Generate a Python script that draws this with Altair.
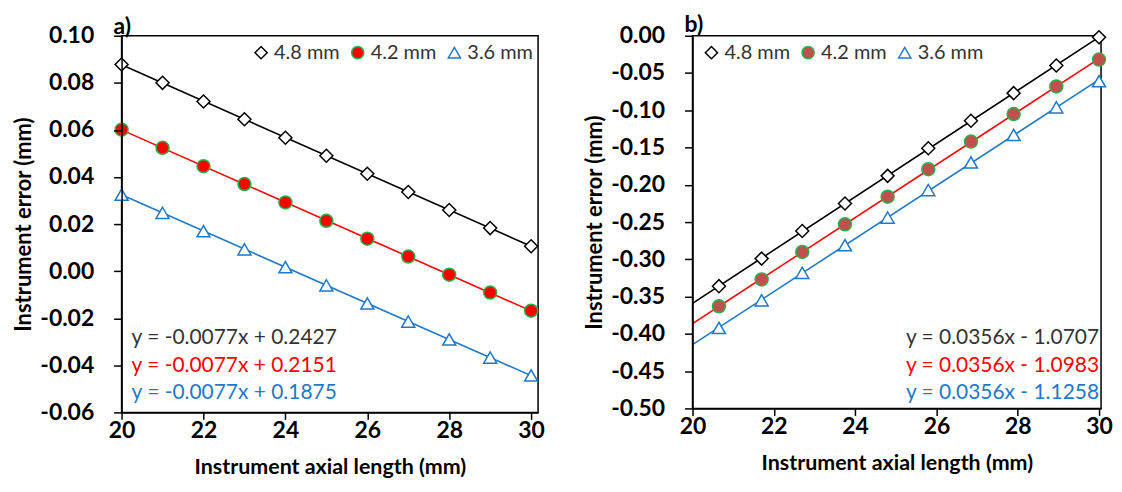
import altair as alt
import pandas as pd

series = ["4.8 mm", "4.2 mm", "3.6 mm"]

# Panel a)
a_x = [20, 21, 22, 23, 24, 25, 26, 27, 28, 29, 30]
a_48 = [0.0878, 0.0800, 0.0721, 0.0645, 0.0567, 0.0490, 0.0414, 0.0336, 0.0260, 0.0183, 0.0106]
a_42 = [0.0601, 0.0524, 0.0446, 0.0370, 0.0292, 0.0214, 0.0138, 0.0062, -0.0015, -0.0091, -0.0168]
a_36 = [0.0325, 0.0248, 0.0170, 0.0093, 0.0017, -0.0060, -0.0137, -0.0214, -0.0290, -0.0367, -0.0443]
a_eq = ["y = -0.0077x + 0.2427", "y = -0.0077x + 0.2151", "y = -0.0077x + 0.1875"]
a_yticks = [-0.06, -0.04, -0.02, 0.00, 0.02, 0.04, 0.06, 0.08, 0.10]

# Panel b)
b_x = [20.65, 21.7, 22.7, 23.75, 24.8, 25.8, 26.85, 27.9, 28.95, 30.0]
b_48 = [-0.336, -0.299, -0.262, -0.225, -0.188, -0.151, -0.114, -0.077, -0.040, -0.002]
b_42 = [-0.363, -0.327, -0.290, -0.253, -0.216, -0.179, -0.142, -0.105, -0.068, -0.032]
b_36 = [-0.392, -0.355, -0.318, -0.281, -0.244, -0.207, -0.170, -0.133, -0.096, -0.061]
b_eq = ["y = 0.0356x - 1.0707", "y = 0.0356x - 1.0983", "y = 0.0356x - 1.1258"]
b_yticks = [-0.50, -0.45, -0.40, -0.35, -0.30, -0.25, -0.20, -0.15, -0.10, -0.05, 0.00]

x_ticks = [20, 22, 24, 26, 28, 30]

FONT = "Lato"
BLUE = "#1F78C8"
LINE_COLORS = ["#000000", "#FF0000", BLUE]
EQ_COLORS = ["#333333", "#FF0000", BLUE]


def long_df(xs, ys_list):
    rows = []
    for s, ys in zip(series, ys_list):
        for xv, yv in zip(xs, ys):
            rows.append({"x": xv, "y": yv, "series": s})
    return pd.DataFrame(rows)


def panel(df, eqs, xdom, ydom, yticks, fill_mid, legend_x, eq_x, eq_align,
          title, width, height, title_offset):
    xenc = alt.X("x:Q", scale=alt.Scale(domain=xdom, nice=False, zero=False),
                 axis=alt.Axis(values=x_ticks, format="d", ticks=True, tickSize=7,
                               tickColor="#000000", tickOpacity=1, tickWidth=1.5,
                               labelFlush=False, domain=True, zindex=2,
                               title="Instrument axial length (mm)"))
    yenc = alt.Y("y:Q", scale=alt.Scale(domain=ydom, nice=False, zero=False),
                 axis=alt.Axis(values=yticks, ticks=True, tickSize=8,
                               tickColor="#000000", tickOpacity=1, tickWidth=1.5,
                               labelFlush=False, domain=True, zindex=2,
                               labelExpr="replace(format(datum.value, '.2f'), '\u2212', '-')",
                               title="Instrument error (mm)"))
    leg = alt.Legend(title=None, orient="none", legendX=legend_x, legendY=7,
                     direction="horizontal", labelFont=FONT, labelFontSize=20,
                     labelColor="#333333", symbolSize=150, symbolStrokeWidth=1.5,
                     columnPadding=8, labelOffset=3, padding=0)
    lines = alt.Chart(df).transform_regression(
        "x", "y", groupby=["series"], extent=[20, 30]
    ).transform_calculate(
        trend="datum.series + ' fit'"
    ).mark_line(strokeWidth=1.6).encode(
        x=xenc, y=yenc,
        color=alt.Color("trend:N",
                        scale=alt.Scale(domain=[s + " fit" for s in series], range=LINE_COLORS),
                        legend=None),
    )
    pts = alt.Chart(df).mark_point(size=170, filled=False, strokeWidth=1.5, opacity=1).encode(
        x=xenc, y=yenc,
        shape=alt.Shape("series:N", scale=alt.Scale(domain=series,
                        range=["diamond", "circle", "triangle-up"]), legend=leg),
        fill=alt.Fill("series:N", scale=alt.Scale(domain=series,
                      range=["#FFFFFF", fill_mid, "#FFFFFF"]), legend=leg),
        stroke=alt.Stroke("series:N", scale=alt.Scale(domain=series,
                          range=["#000000", "#2DB04B", BLUE]), legend=leg),
    )
    layers = [lines, pts]
    for i, (eq, col) in enumerate(zip(eqs, EQ_COLORS)):
        layers.append(
            alt.Chart(pd.DataFrame({"t": [eq]})).mark_text(
                font=FONT, fontSize=21, color=col, align=eq_align, baseline="middle"
            ).encode(text="t:N", x=alt.value(eq_x), y=alt.value(303 + 28 * i))
        )
    return alt.layer(*layers).properties(
        width=width, height=height,
        title=alt.TitleParams(title, anchor="start", frame="group", dx=-8,
                              font=FONT, fontSize=23, fontWeight="bold",
                              color="#000000", offset=title_offset),
    )


dfa = long_df(a_x, [a_48, a_42, a_36])
dfb = long_df(b_x, [b_48, b_42, b_36])

left = panel(dfa, a_eq, [20, 30.17], [-0.06, 0.10], a_yticks, "#FF0000",
             130, 10, "left", "a)", 418, 378, -14)
right = panel(dfb, b_eq, [20, 30.05], [-0.50, 0.00], b_yticks, "#C0504D",
              9, 408, "right", "b)", 410, 374, -12)

chart = alt.hconcat(left, right, spacing=37, background="white",
                    padding={"left": 4, "top": 4, "right": 0, "bottom": 0}).resolve_scale(
    shape="independent", fill="independent", stroke="independent", color="independent"
).resolve_legend(
    shape="independent", fill="independent", stroke="independent"
).configure_view(
    stroke="#000000", strokeWidth=1.5
).configure_axis(
    grid=False, domainColor="#000000", domainWidth=1.5, tickColor="#000000",
    tickWidth=1.5, labelFont=FONT, labelFontWeight="bold",
    labelFontSize=23, labelColor="#000000", labelPadding=20,
    titleFont=FONT, titleFontWeight="bold", titleFontSize=22,
    titleColor="#000000", titlePadding=4,
).configure_axisX(labelPadding=0, titlePadding=14, titleFontSize=21.5)

chart.save("out.html", embed_options={"renderer": "svg", "actions": False})
